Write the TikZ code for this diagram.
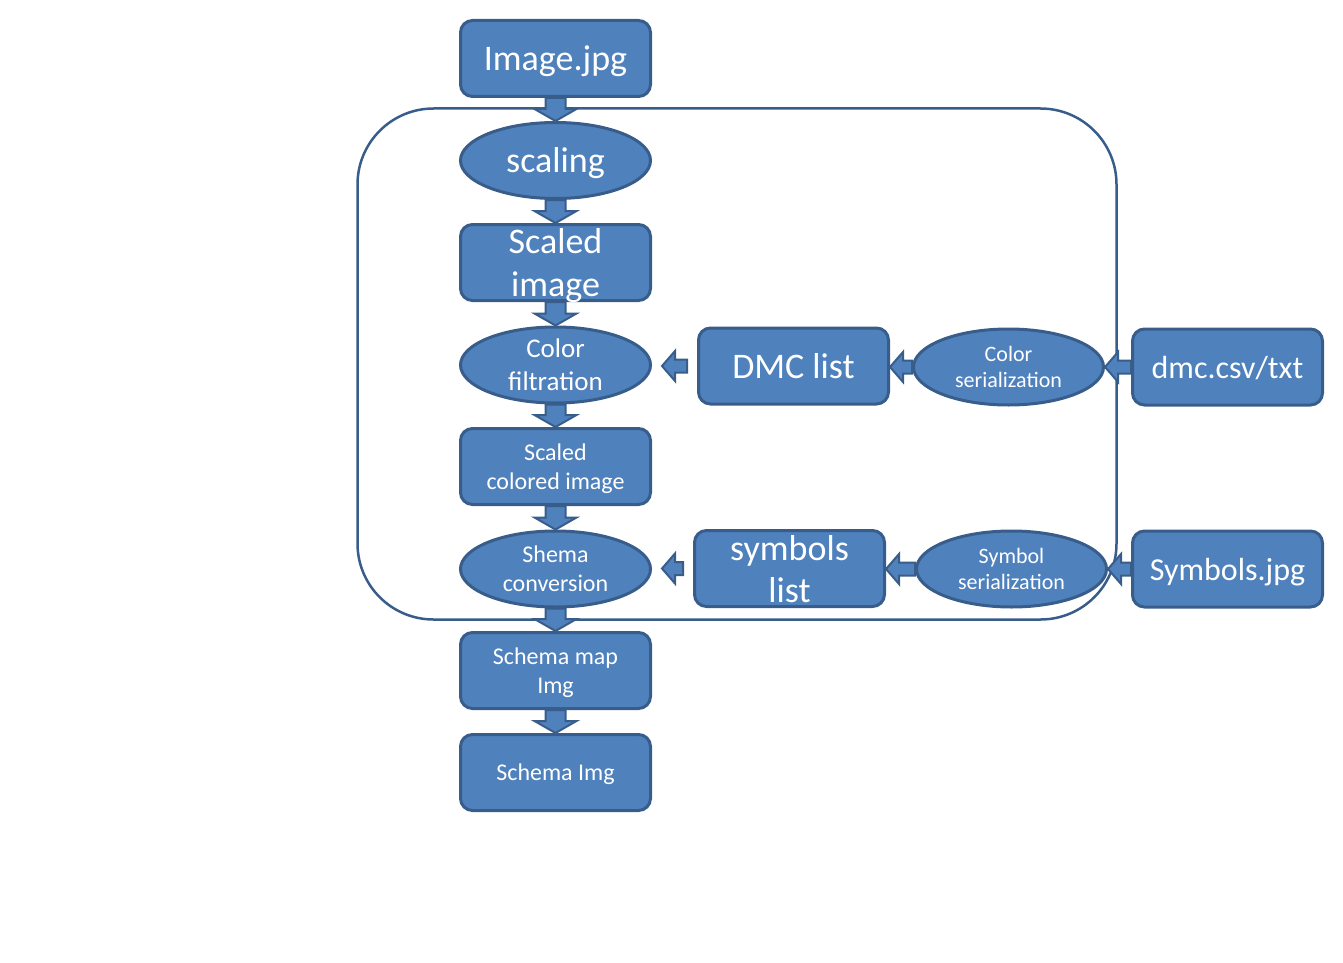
\documentclass[tikz,border=0pt]{standalone}
\usepackage{fontspec}
\setmainfont{Carlito}
\usetikzlibrary{shapes.geometric,calc}

\definecolor{boxfill}{HTML}{4F81BD}
\definecolor{boxline}{HTML}{385D8A}

\tikzset{
	box/.style={draw=boxline, fill=boxfill, line width=1.5pt, rounded corners=6pt,
		minimum width=95pt, minimum height=38pt, text=white, align=center, inner sep=1pt,
		text depth=0pt},
	oval/.style={box, ellipse, rounded corners=0pt, inner sep=-3pt},
	huge/.style={font=\fontsize{18}{21}\selectfont},
	large/.style={font=\fontsize{16}{19}\selectfont},
	mid/.style={font=\fontsize{13.5}{16.5}\selectfont},
	small/.style={font=\fontsize{12}{14.5}\selectfont},
	tiny/.style={font=\fontsize{11}{13}\selectfont},
	fatarrow/.style={draw=boxline, fill=boxfill, line width=1pt, line join=miter}
}

% block arrow down from #1 to #2
\newcommand\varrow[2]{%
	\draw[fatarrow] let \p1=(#1.south), \p2=(#2.north) in
		(\x1-5pt,\y1) -- (\x1-5pt,\y2+6pt) -- (\x1-10.5pt,\y2+6pt) -- (\x1,\y2)
		-- (\x1+10.5pt,\y2+6pt) -- (\x1+5pt,\y2+6pt) -- (\x1+5pt,\y1) -- cycle;}
% block arrow left from #1 to #2, #3 = gap at both ends
\newcommand\harrow[3]{%
	\draw[fatarrow] let \p1=(#1.west), \p2=(#2.east) in
		(\x1-#3,\y1-3.25pt) -- (\x2+#3+6.5pt,\y1-3.25pt) -- (\x2+#3+6.5pt,\y1-7.5pt) -- (\x2+#3,\y1)
		-- (\x2+#3+6.5pt,\y1+7.5pt) -- (\x2+#3+6.5pt,\y1+3.25pt) -- (\x1-#3,\y1+3.25pt) -- cycle;}

\begin{document}
\begin{tikzpicture}[x=0.5pt, y=-0.5pt]
	\useasboundingbox (0,0) rectangle (1343,963);

	\node[box, huge] (image) at (555.5,58.5) {Image.jpg};
	\node[oval, huge] (scaling) at (555.5,160.5) {scaling};
	\node[box, huge] (scaled) at (555.5,262.5) {Scaled\\image};
	\node[oval, mid] (filtration) at (555.5,365) {Color\\filtration};
	\node[box, small] (colored) at (555.5,466.5) {Scaled\\colored image};
	\node[oval, small] (conversion) at (555.5,569) {Shema\\conversion};
	\node[box, small] (schemamap) at (555.5,670.5) {Schema map\\Img};
	\node[box, small] (schemaimg) at (555.5,772.5) {Schema Img};

	\node[box, huge] (dmclist) at (793.5,366) {DMC list};
	\node[oval, tiny] (colorser) at (1008.5,367) {Color\\serialization};
	\node[box, large] (dmcfile) at (1227.5,367) {dmc.csv/txt};

	\node[box, huge] (symlist) at (789.5,568.5) {symbols\\list};
	\node[oval, tiny] (symser) at (1011.5,569) {Symbol\\serialization};
	\node[box, large] (symfile) at (1227.5,569) {Symbols.jpg};

	% frame round the processing part
	\draw[boxline, line width=1.25pt, rounded corners=38pt] (357.5,108.5) rectangle (1116.5,619.5);

	\varrow{image}{scaling}
	\varrow{scaling}{scaled}
	\varrow{scaled}{filtration}
	\varrow{filtration}{colored}
	\varrow{colored}{conversion}
	\varrow{conversion}{schemamap}
	\varrow{schemamap}{schemaimg}

	\harrow{dmclist}{filtration}{5pt}
	\harrow{colorser}{dmclist}{0pt}
	\harrow{dmcfile}{colorser}{0pt}
	\harrow{symlist}{conversion}{5pt}
	\harrow{symser}{symlist}{0pt}
	\harrow{symfile}{symser}{0pt}
	%\harrow{symfile}{symser}{2pt}
\end{tikzpicture}
\end{document}
